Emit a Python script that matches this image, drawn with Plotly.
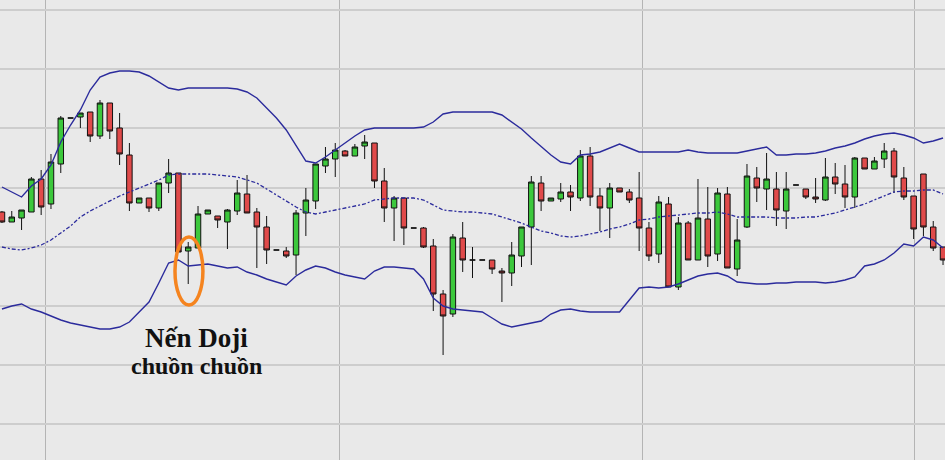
import plotly.graph_objects as go

# Candle OHLC values (arbitrary price units), one per session
open_ = [248,238,242,248,281,256,296,342,343,348,324,357,332,305,257,262,252,277,287,209,
         212,246,244,238,249,266,248,233,210,209,205,247,259,294,301,309,304,314,317,279,
         252,262,232,232,214,166,146,222,200,200,200,189,187,204,233,277,259,261,268,262,
         304,264,252,272,268,262,232,206,256,173,237,200,241,206,266,191,233,282,271,271,
         249,275,271,263,260,283,276,263,302,291,301,309,282,264,286,233,213]
high_ = [249,249,250,283,290,306,344,342,347,348,360,357,347,317,262,262,277,301,287,218,
         254,250,244,251,280,285,252,244,210,213,250,272,296,313,317,310,316,325,317,292,
         264,262,232,233,221,170,226,238,213,200,200,192,218,233,284,284,262,277,275,310,
         313,272,277,272,271,288,238,264,263,243,239,281,273,272,273,241,296,293,307,288,
         288,275,271,282,302,297,295,303,302,303,317,312,293,264,286,239,213]
low_ =  [237,238,230,248,245,251,287,342,332,318,321,321,295,249,257,248,249,267,208,176,
         212,246,232,211,245,247,192,196,210,202,185,224,251,287,283,304,304,301,272,238,
         219,215,232,212,149,105,143,188,182,200,186,158,174,193,195,249,259,258,249,259,
         254,229,222,268,257,209,199,197,173,170,200,200,193,199,192,184,232,258,250,234,
         231,275,261,257,259,266,252,252,291,291,292,267,260,221,224,209,195]
close_ = [238,243,250,281,253,298,342,342,347,324,357,329,306,257,262,252,277,287,208,213,
          246,250,240,250,267,247,233,210,210,204,247,260,296,301,310,304,313,318,279,252,
          262,232,232,213,166,144,223,200,200,200,191,187,205,233,278,259,262,268,263,304,
          263,252,272,268,260,232,204,258,173,237,200,242,204,267,192,220,284,272,281,250,
          271,275,263,261,283,276,263,302,291,299,309,283,263,231,233,212,200]

# Bollinger bands (20-period) per session
upper_band = [273,268,263,274,281,295,318,335,350,370,383,387,389,389,388,384,378,372,370,372,
              372,372,372,372,371,368,362,352,342,330,314,299,297,303,310,317,324,330,332,332,
              332,332,332,333,338,346,348,348,348,348,348,345,338,331,322,313,305,298,296,305,
              306,308,312,316,312,308,308,308,308,308,310,308,307,307,307,307,309,311,313,305,
              305,306,306,307,309,312,314,317,321,324,326,327,325,322,317,319,322]
middle_band = [213,211,210,212,215,220,227,234,243,249,254,259,264,268,272,276,280,285,286,286,
               286,286,285,284,283,280,277,271,265,259,253,248,246,248,250,252,254,256,260,261,
               262,262,262,260,255,250,249,248,248,247,246,243,240,237,233,229,227,224,223,224,
               226,228,231,233,236,240,241,243,244,245,246,247,247,248,246,243,243,243,243,242,
               242,242,243,243,245,247,250,253,256,260,264,268,269,269,270,270,266]
lower_band = [151,154,156,151,148,144,140,137,135,133,131,131,133,138,148,158,177,197,200,194,
              195,196,194,192,193,188,185,181,178,175,184,190,194,192,188,185,183,181,189,193,
              193,192,191,181,162,154,151,150,149,148,142,136,133,135,137,139,146,150,151,149,
              148,148,148,148,160,172,173,172,173,176,180,184,186,187,184,178,177,176,176,177,
              177,178,178,178,177,178,180,183,194,196,200,207,216,214,223,220,212]

sessions = list(range(len(open_)))
period_breaks = [4.49, 34.39, 65.31, 93.06]
price_grid = [36, 95, 154, 213, 272, 332, 391, 450]
doji_index = 19
label_lines = ["Nến Doji", "chuồn chuồn"]

band_color = "#2b2b9c"

fig = go.Figure()
fig.add_trace(go.Scatter(x=sessions, y=upper_band, mode="lines",
                         line=dict(color=band_color, width=1.4), hoverinfo="skip"))
fig.add_trace(go.Scatter(x=sessions, y=lower_band, mode="lines",
                         line=dict(color=band_color, width=1.4), hoverinfo="skip"))
fig.add_trace(go.Scatter(x=sessions, y=middle_band, mode="lines",
                         line=dict(color=band_color, width=1.3, dash="4px,2px,2px,2px"),
                         hoverinfo="skip"))
fig.add_trace(go.Candlestick(
    x=sessions, open=open_, high=high_, low=low_, close=close_,
    increasing=dict(line=dict(color="#111111", width=1), fillcolor="#3cc83c"),
    decreasing=dict(line=dict(color="#111111", width=1), fillcolor="#e04a4a"),
    whiskerwidth=0,
))

# Orange ellipse around the dragonfly doji, sized from its high/low
fig.add_shape(type="circle", xref="x", yref="y",
              x0=doji_index - 1.35, x1=doji_index + 1.5,
              y0=low_[doji_index] - 21, y1=high_[doji_index] + 5,
              line=dict(color="#f5841f", width=3.5))

font_family = "Liberation Serif, Times New Roman, serif"
fig.add_annotation(x=doji_index + 0.8, y=lower_band[doji_index] - 72, xref="x", yref="y",
                   text="<b>" + label_lines[0] + "</b>", showarrow=False,
                   xanchor="center", yanchor="middle",
                   font=dict(family=font_family, size=27, color="#111111"))
fig.add_annotation(x=doji_index + 0.8, y=lower_band[doji_index] - 100, xref="x", yref="y",
                   text="<b>" + label_lines[1] + "</b>", showarrow=False,
                   xanchor="center", yanchor="middle",
                   font=dict(family=font_family, size=24, color="#111111"))

fig.update_layout(
    width=945, height=460,
    margin=dict(l=0, r=0, t=0, b=0),
    paper_bgcolor="#e9e9e9", plot_bgcolor="#e9e9e9",
    showlegend=False,
    boxgap=0.2,
    xaxis=dict(range=[-0.2, 96.2], tickvals=period_breaks, showticklabels=False,
               showgrid=True, gridcolor="#b4b4b4", gridwidth=1, zeroline=False,
               rangeslider=dict(visible=False), showline=False, ticks=""),
    yaxis=dict(range=[0, 460], tickvals=price_grid, showticklabels=False,
               showgrid=True, gridcolor="#cdcdcd", gridwidth=1.5, zeroline=False,
               showline=False, ticks=""),
)

fig.write_html("out.html", config={"displayModeBar": False},
               post_script="document.body.style.margin='0';document.body.style.overflow='hidden';")
